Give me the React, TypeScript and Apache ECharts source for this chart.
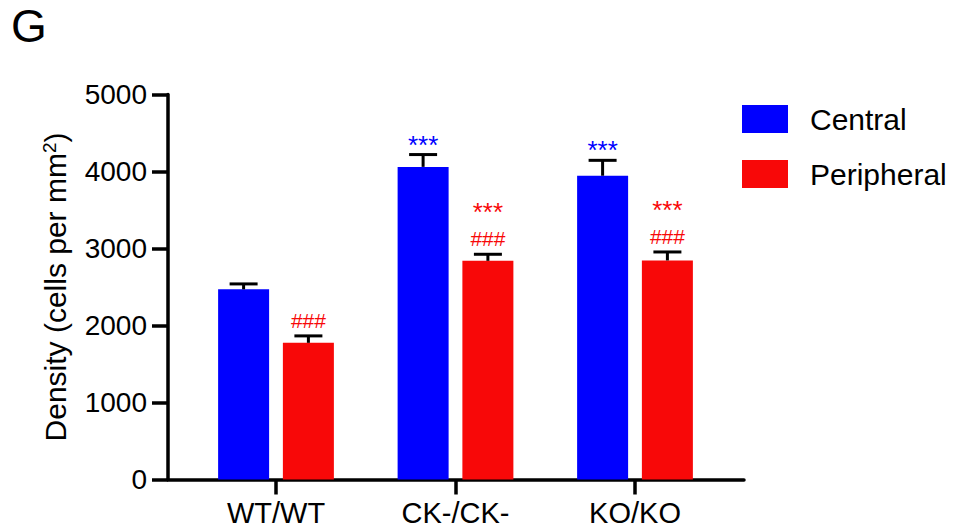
import React, { useEffect, useRef } from "react";
import * as echarts from "echarts";

const categories = ["WT/WT", "CK-/CK-", "KO/KO"];
const seriesNames = ["Central", "Peripheral"];
const centralMean = [2470, 4060, 3945];
const centralSem = [70, 160, 200];
const peripheralMean = [1775, 2840, 2845];
const peripheralSem = [90, 85, 110];
const centralMarks = ["", "***", "***"];
const peripheralMarks = ["###", "***\n###", "***\n###"];
const yTicks = [0, 1000, 2000, 3000, 4000, 5000];

const BLUE = "#0000ff";
const RED = "#f80808";
const FONT = "Liberation Sans";

// text metrics for the significance marks (style only)
const STAR = { fontSize: 26, half: 14.5, firstMid: 10 };
const HASH = { fontSize: 21, half: 11.7, firstMid: 15.5 };

function errorSeries(means: number[], sems: number[], marks: string[], offset: number, color: string) {
  return {
    type: "custom",
    xAxisIndex: 1,
    yAxisIndex: 1,
    z: 5,
    data: means.map((m, i) => [i, m, sems[i]]),
    renderItem: (params: any, api: any) => {
      const idx = api.value(0);
      const m = api.value(1);
      const s = api.value(2);
      const base = api.coord([idx, m]);
      const top = api.coord([idx, m + s]);
      const x = base[0] + offset;
      const cap = 14;
      const children: any[] = [
        { type: "line", shape: { x1: x, y1: base[1], x2: x, y2: top[1] }, style: { stroke: "#000", lineWidth: 3 } },
        { type: "line", shape: { x1: x - cap, y1: top[1], x2: x + cap, y2: top[1] }, style: { stroke: "#000", lineWidth: 3 } },
      ];
      const mk = marks[params.dataIndex];
      if (mk) {
        const lines = mk.split("\n").reverse();
        let cursor = top[1];
        lines.forEach((line, li) => {
          const met = line.startsWith("*") ? STAR : HASH;
          const mid = li === 0 ? top[1] - met.firstMid : cursor - met.half - 0.5;
          cursor = mid - met.half;
          children.push({
            type: "text",
            style: {
              text: line,
              x: x,
              y: mid,
              align: "center",
              verticalAlign: "middle",
              fill: color,
              fontSize: met.fontSize,
              fontFamily: FONT,
            },
          });
        });
      }
      return { type: "group", children };
    },
  };
}

export default function App() {
  const ref = useRef<HTMLDivElement>(null);
  useEffect(() => {
    if (!ref.current) return;
    const chart = echarts.init(ref.current, null, { renderer: "svg" });
    chart.setOption({
      animation: false,
      backgroundColor: "#fff",
      textStyle: { fontFamily: FONT },
      title: {
        text: "G",
        left: 6,
        top: -2,
        textStyle: { fontSize: 46, fontWeight: "normal", color: "#000", fontFamily: FONT },
      },
      legend: {
        orient: "vertical",
        left: 742,
        top: 104,
        padding: 0,
        itemWidth: 46,
        itemHeight: 28,
        itemGap: 25,
        icon: "rect",
        data: seriesNames,
        textStyle: { fontSize: 30, color: "#000", fontFamily: FONT, padding: [0, 0, 0, 17] },
      },
      grid: [
        { left: 168, right: 224, top: 94.5, bottom: 51.5 },
        { left: 186.25, right: 243.25, top: 94.5, bottom: 51.5 },
      ],
      xAxis: [
        {
          gridIndex: 0,
          type: "value",
          min: 0,
          max: 1,
          axisLine: { show: true, lineStyle: { color: "#000", width: 3.5 } },
          axisTick: { show: false },
          axisLabel: { show: false },
          splitLine: { show: false },
        },
        {
          gridIndex: 1,
          type: "category",
          data: categories,
          axisLine: { show: false },
          axisTick: { show: true, alignWithLabel: true, length: 15, lineStyle: { color: "#000", width: 3.5 } },
          axisLabel: { fontSize: 29, color: "#000", margin: 19, fontFamily: FONT, interval: 0 },
          splitLine: { show: false },
        },
      ],
      yAxis: [
        {
          gridIndex: 0,
          type: "value",
          min: yTicks[0],
          max: yTicks[yTicks.length - 1],
          interval: 1000,
          axisLine: { show: true, lineStyle: { color: "#000", width: 3.5 } },
          axisTick: { show: true, length: 16, lineStyle: { color: "#000", width: 3.5 } },
          axisLabel: { fontSize: 28, color: "#000", margin: 21, fontFamily: FONT, formatter: (v: number) => String(v) },
          splitLine: { show: false },
          name: "Density (cells per mm{sup|2})",
          nameLocation: "middle",
          nameGap: 97,
          nameTextStyle: {
            fontSize: 30,
            color: "#000",
            fontFamily: FONT,
            rich: { sup: { fontSize: 19, verticalAlign: "top", color: "#000", fontFamily: FONT, padding: [0, 0, 12, 0] } },
          },
        },
        {
          gridIndex: 1,
          type: "value",
          min: 0,
          max: 5000,
          show: false,
          splitLine: { show: false },
        },
      ],
      series: [
        {
          name: seriesNames[0],
          type: "bar",
          xAxisIndex: 1,
          yAxisIndex: 1,
          data: centralMean,
          barWidth: 51,
          barGap: "27%",
          itemStyle: { color: BLUE },
        },
        {
          name: seriesNames[1],
          type: "bar",
          xAxisIndex: 1,
          yAxisIndex: 1,
          data: peripheralMean,
          barWidth: 51,
          barGap: "27%",
          itemStyle: { color: RED },
        },
        errorSeries(centralMean, centralSem, centralMarks, -32.4, BLUE),
        errorSeries(peripheralMean, peripheralSem, peripheralMarks, 32.4, RED),
      ],
    });
    return () => chart.dispose();
  }, []);
  return <div ref={ref} style={{ position: "fixed", left: 0, top: 0, width: 968, height: 531 }} />;
}
